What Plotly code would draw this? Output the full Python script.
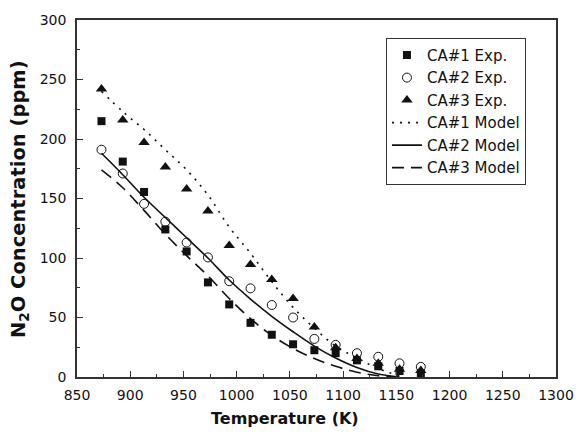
import plotly.graph_objects as go

# Temperatures (K)
temps = [873, 893, 913, 933, 953, 973, 993, 1013, 1033, 1053, 1073, 1093, 1113, 1133, 1153, 1173]

# Experimental data (ppm)
ca1_exp = [215, 181, 155.5, 124, 105.5, 79.5, 61, 45.5, 35.5, 27.5, 22.5, 20, 14, 9, 5, 3]
ca2_exp = [191, 171, 145.5, 130.5, 113, 100.5, 80.5, 74.5, 60.5, 50, 32, 27, 20, 17, 11.5, 8.5]
ca3_exp = [242, 216, 197, 176.5, 158, 139.5, 110.5, 94.5, 82, 66, 42, 24.5, 15.5, 11.5, 6.5, 5.5]

# Model curves (ppm)
model_t = [873, 893, 913, 933, 953, 973, 993, 1013, 1033, 1053, 1073, 1093, 1113, 1133, 1153]
ca1_model = [240, 223, 208, 191, 174, 153, 126, 104, 80, 58.5, 41, 26, 16, 7, 1]
ca2_model = [188, 170, 151, 134, 117, 100, 81.5, 65.5, 51, 38, 26, 16, 8, 2.5, 0]
ca3_model = [174, 159, 140, 120, 102, 85, 66, 49, 35, 24, 15.5, 9, 4, 1, 0]

x_ticks = [850, 900, 950, 1000, 1050, 1100, 1150, 1200, 1250, 1300]
y_ticks = [0, 50, 100, 150, 200, 250, 300]

FONT = "DejaVu Sans"
INK = "#111111"

fig = go.Figure()
fig.add_trace(go.Scatter(x=temps, y=ca1_exp, mode="markers", name="CA#1 Exp.",
                         marker=dict(symbol="square", size=8, color=INK)))
fig.add_trace(go.Scatter(x=temps, y=ca2_exp, mode="markers", name="CA#2 Exp.",
                         marker=dict(symbol="circle-open", size=9, color=INK, line=dict(width=1))))
fig.add_trace(go.Scatter(x=temps, y=ca3_exp, mode="markers", name="CA#3 Exp.",
                         marker=dict(symbol="triangle-up", size=10, color=INK)))
fig.add_trace(go.Scatter(x=model_t, y=ca1_model, mode="lines", name="CA#1 Model",
                         line=dict(color=INK, width=1.6, dash="2px,6px", shape="spline")))
fig.add_trace(go.Scatter(x=model_t, y=ca2_model, mode="lines", name="CA#2 Model",
                         line=dict(color=INK, width=1.6, shape="spline")))
fig.add_trace(go.Scatter(x=model_t, y=ca3_model, mode="lines", name="CA#3 Model",
                         line=dict(color=INK, width=1.6, dash="12px,7px", shape="spline")))

axis_common = dict(
    showgrid=False, zeroline=False, showline=True, linecolor="#333333", linewidth=1.5,
    mirror=True, ticks="inside", ticklen=6, tickwidth=1.2, tickcolor="#333333",
    tickfont=dict(family=FONT, size=14, color=INK),
)
fig.update_xaxes(range=[850, 1300], tickvals=x_ticks, ticklabelstandoff=4,
                 minor=dict(ticks="inside", ticklen=3, dtick=25, tickcolor="#333333"),
                 **axis_common)
fig.update_yaxes(range=[0, 300], tickvals=y_ticks, ticklabelstandoff=6,
                 minor=dict(ticks="inside", ticklen=3, dtick=25, tickcolor="#333333"),
                 **axis_common)

fig.update_layout(
    width=586, height=435,
    margin=dict(l=77, r=21, t=20, b=58),
    paper_bgcolor="white", plot_bgcolor="white",
    showlegend=True,
    legend=dict(x=0.645, y=0.95, xanchor="left", yanchor="top",
                bordercolor="#333333", borderwidth=1, bgcolor="white",
                font=dict(family=FONT, size=15, color=INK)),
    annotations=[
        dict(text="Temperature (K)", xref="paper", yref="paper", x=0.434, y=-0.115,
             xanchor="center", yanchor="middle", showarrow=False,
             font=dict(family=FONT, size=16, color=INK, weight="bold")),
        dict(text="N<sub>2</sub>O Concentration (ppm)", xref="paper", yref="paper",
             x=-0.12, y=0.497, xanchor="center", yanchor="middle", showarrow=False,
             textangle=-90, font=dict(family=FONT, size=19.5, color=INK, weight="bold")),
    ],
)

fig.write_html("out.html")
